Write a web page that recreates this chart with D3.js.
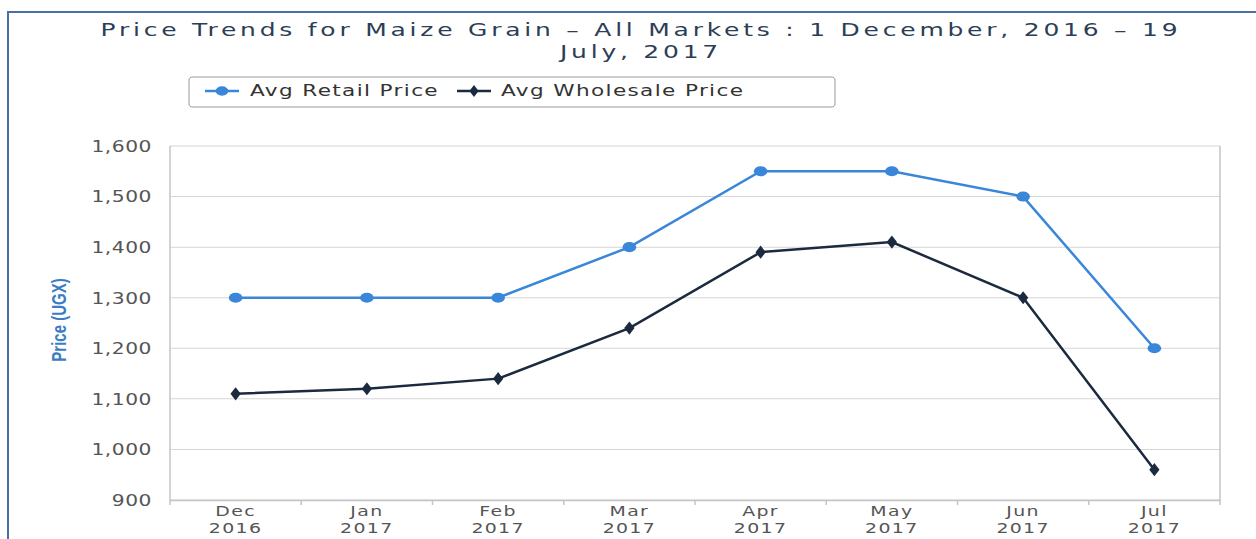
<!DOCTYPE html>
<html>
<head>
<meta charset="utf-8">
<script src="https://cdn.jsdelivr.net/npm/d3@7"></script>
<style>
  html, body { margin: 0; padding: 0; background: #fff; }
  svg { display: block; }
</style>
</head>
<body>
<svg id="chart"></svg>
<script>
// chart data
var months = ["Dec", "Jan", "Feb", "Mar", "Apr", "May", "Jun", "Jul"];
var years = ["2016", "2017", "2017", "2017", "2017", "2017", "2017", "2017"];
var retail = [1300, 1300, 1300, 1400, 1550, 1550, 1500, 1200];
var wholesale = [1110, 1120, 1140, 1240, 1390, 1410, 1300, 960];
var yTicks = [900, 1000, 1100, 1200, 1300, 1400, 1500, 1600];

var W = 1256, H = 539;
// the reference is stretched sideways, so draw narrow and stretch
var k = 1.35;
function sx(px) { return px / k; }

var svg = d3.select("#chart")
    .attr("width", W)
    .attr("height", H)
    .attr("viewBox", "0 0 " + sx(W) + " " + H)
    .attr("preserveAspectRatio", "none");

var plot = { left: 170, right: 1220, top: 146, bottom: 500 };

var x = d3.scaleBand()
    .domain(months.map(function(d, i) { return i; }))
    .range([sx(plot.left), sx(plot.right)]);

var y = d3.scaleLinear()
    .domain([900, 1600])
    .range([plot.bottom, plot.top]);

// frame
svg.append("path")
    .attr("d", "M" + sx(8) + "," + H + "V12H" + sx(W))
    .attr("fill", "none")
    .attr("stroke", "#4a6fa8")
    .attr("stroke-width", 2)
    .attr("vector-effect", "non-scaling-stroke");

// title
var title = svg.append("text")
    .attr("text-anchor", "middle")
    .attr("font-family", "DejaVu Sans")
    .attr("font-size", 18.5)
    .attr("letter-spacing", 2.8)
    .attr("fill", "#2c3e55");
title.append("tspan")
    .attr("x", sx(641)).attr("y", 36)
    .text("Price Trends for Maize Grain \u2013 All Markets : 1 December, 2016 \u2013 19");
title.append("tspan")
    .attr("x", sx(641)).attr("y", 58)
    .text("July, 2017");

// legend
var legend = svg.append("g");
legend.append("rect")
    .attr("x", sx(189)).attr("y", 77)
    .attr("width", sx(835) - sx(189)).attr("height", 30)
    .attr("rx", 3)
    .attr("fill", "#fff")
    .attr("stroke", "#9a9a9a")
    .attr("stroke-width", 1)
    .attr("vector-effect", "non-scaling-stroke");

var legendItems = [
  { name: "Avg Retail Price", color: "#3a86d8", shape: d3.symbolCircle, size: 70, x0: 205, tx: 250 },
  { name: "Avg Wholesale Price", color: "#1b2a3f", shape: d3.symbolDiamond, size: 40, x0: 457, tx: 501 }
];
legendItems.forEach(function(d) {
  legend.append("line")
      .attr("x1", sx(d.x0)).attr("x2", sx(d.x0 + 34))
      .attr("y1", 91).attr("y2", 91)
      .attr("stroke", d.color).attr("stroke-width", 2.5)
      .attr("vector-effect", "non-scaling-stroke");
  legend.append("path")
      .attr("d", d3.symbol().type(d.shape).size(d.size)())
      .attr("transform", "translate(" + sx(d.x0 + 17) + ",91)")
      .attr("fill", d.color);
  legend.append("text")
      .attr("x", sx(d.tx)).attr("y", 96.5)
      .attr("font-family", "DejaVu Sans")
      .attr("font-size", 16)
      .attr("letter-spacing", 1.0)
      .attr("fill", "#333")
      .text(d.name);
});

// grid
svg.append("g")
    .selectAll("line")
    .data(yTicks)
    .enter()
    .append("line")
    .attr("x1", sx(plot.left)).attr("x2", sx(plot.right))
    .attr("y1", function(d) { return y(d); })
    .attr("y2", function(d) { return y(d); })
    .attr("stroke", "#d6d6d6")
    .attr("stroke-width", 1);

// plot sides
[plot.left, plot.right].forEach(function(px) {
  svg.append("line")
      .attr("x1", sx(px)).attr("x2", sx(px))
      .attr("y1", plot.top).attr("y2", plot.bottom + 5)
      .attr("stroke", "#c4c4c4").attr("stroke-width", 1.5)
      .attr("vector-effect", "non-scaling-stroke");
});

// y axis labels
var yAxis = d3.axisLeft(y)
    .tickValues(yTicks)
    .tickSize(0)
    .tickPadding(sx(18))
    .tickFormat(d3.format(","));
var yg = svg.append("g")
    .attr("transform", "translate(" + sx(plot.left) + ",0)")
    .call(yAxis);
yg.select(".domain").remove();
yg.selectAll("text")
    .attr("font-family", "DejaVu Sans")
    .attr("font-size", 15)
    .attr("letter-spacing", 0.4)
    .attr("fill", "#555")
    .attr("dy", "0.36em");

// x axis
var xAxis = d3.axisBottom(x).tickSize(0).tickFormat("");
var xg = svg.append("g")
    .attr("transform", "translate(0," + plot.bottom + ")")
    .call(xAxis);
xg.select(".domain")
    .attr("stroke", "#c4c4c4")
    .attr("stroke-width", 1.5)
    .attr("vector-effect", "non-scaling-stroke");
xg.selectAll(".tick").remove();

// ticks between categories
svg.append("g")
    .selectAll("line")
    .data(months.slice(1))
    .enter()
    .append("line")
    .attr("x1", function(d, i) { return x(i + 1); })
    .attr("x2", function(d, i) { return x(i + 1); })
    .attr("y1", plot.bottom).attr("y2", plot.bottom + 5)
    .attr("stroke", "#c4c4c4").attr("stroke-width", 1.5)
    .attr("vector-effect", "non-scaling-stroke");

var cx = function(d, i) { return x(i) + x.bandwidth() / 2; };

svg.append("g")
    .selectAll("text")
    .data(months)
    .enter()
    .append("text")
    .attr("x", cx)
    .attr("y", 516)
    .attr("text-anchor", "middle")
    .attr("font-family", "DejaVu Sans")
    .attr("font-size", 14)
    .attr("letter-spacing", 1.0)
    .attr("fill", "#555")
    .text(function(d) { return d; });
svg.append("g")
    .selectAll("text")
    .data(years)
    .enter()
    .append("text")
    .attr("x", cx)
    .attr("y", 533)
    .attr("text-anchor", "middle")
    .attr("font-family", "DejaVu Sans")
    .attr("font-size", 14)
    .attr("letter-spacing", 1.0)
    .attr("fill", "#555")
    .text(function(d) { return d; });

// y axis title
svg.append("text")
    .attr("transform", "translate(" + sx(66) + "," + 320 + ") rotate(-90)")
    .attr("text-anchor", "middle")
    .attr("font-family", "Liberation Sans Narrow, Liberation Sans")
    .attr("font-size", 15)
    .attr("font-weight", "bold")
    .attr("fill", "#3a7dc4")
    .text("Price (UGX)");

// series
var line = d3.line()
    .x(function(d, i) { return cx(d, i); })
    .y(function(d) { return y(d); });

var series = [
  { values: retail, color: "#3a86d8", shape: d3.symbolCircle, size: 80 },
  { values: wholesale, color: "#1b2a3f", shape: d3.symbolDiamond, size: 50 }
];

series.forEach(function(s) {
  svg.append("path")
      .datum(s.values)
      .attr("d", line)
      .attr("fill", "none")
      .attr("stroke", s.color)
      .attr("stroke-width", 2.5)
      .attr("vector-effect", "non-scaling-stroke");
  svg.append("g")
      .selectAll("path")
      .data(s.values)
      .enter()
      .append("path")
      .attr("d", d3.symbol().type(s.shape).size(s.size))
      .attr("transform", function(d, i) {
        return "translate(" + cx(d, i) + "," + y(d) + ")";
      })
      .attr("fill", s.color);
});
</script>
</body>
</html>
